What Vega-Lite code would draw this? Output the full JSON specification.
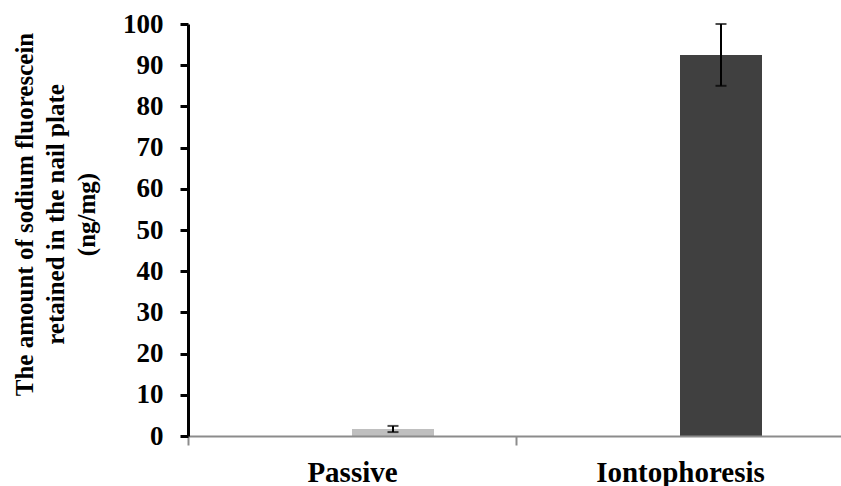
{
  "$schema": "https://vega.github.io/schema/vega-lite/v6.json",
  "width": 653,
  "height": 412,
  "autosize": {"type": "none"},
  "padding": {"left": 188, "top": 24, "right": 0, "bottom": 50},
  "background": "white",
  "config": {"view": {"stroke": null}},
  "data": {
    "values": [
      {"method": "Passive", "slot": "value", "mean": 1.7, "lo": 0.95, "hi": 2.45},
      {"method": "Iontophoresis", "slot": "value", "mean": 92.5, "lo": 85, "hi": 100}
    ]
  },
  "encoding": {
    "x": {
      "field": "method",
      "type": "nominal",
      "sort": ["Passive", "Iontophoresis"],
      "scale": {"range": [0, 656], "paddingInner": 0, "paddingOuter": 0},
      "axis": {
        "title": null,
        "labelAngle": 0,
        "tickBand": "extent",
        "domainColor": "#8c8c8c",
        "domainWidth": 2,
        "tickColor": "#8c8c8c",
        "tickWidth": 2,
        "tickSize": 9,
        "labelFont": "Liberation Serif",
        "labelFontWeight": "bold",
        "labelFontSize": 29,
        "labelColor": "black",
        "labelBaseline": "alphabetic",
        "labelPadding": 36,
        "zindex": 1
      }
    },
    "xOffset": {
      "field": "slot",
      "type": "nominal",
      "scale": {"domain": ["blank", "value"], "paddingInner": 0, "paddingOuter": 1}
    }
  },
  "layer": [
    {
      "mark": {"type": "bar"},
      "encoding": {
        "y": {
          "field": "mean",
          "type": "quantitative",
          "scale": {"domain": [0, 100], "nice": false},
          "axis": {
            "values": [0, 10, 20, 30, 40, 50, 60, 70, 80, 90, 100],
            "grid": false,
            "title": ["The amount of sodium fluorescein", "retained in the nail plate", "(ng/mg)"],
            "titleFont": "Liberation Serif",
            "titleFontSize": 25,
            "titleFontWeight": "bold",
            "titleColor": "black",
            "titleAngle": -90,
            "titleX": -176,
            "titleY": 190,
            "titleBaseline": "top",
            "titleAlign": "center",
            "titleLineHeight": 31,
            "domainColor": "black",
            "domainWidth": 3,
            "tickColor": "black",
            "tickWidth": 3,
            "tickSize": 8,
            "labelFont": "Liberation Serif",
            "labelFontWeight": "bold",
            "labelFontSize": 27,
            "labelColor": "black",
            "labelPadding": 17,
            "zindex": 1
          }
        },
        "color": {
          "field": "method",
          "type": "nominal",
          "scale": {"domain": ["Passive", "Iontophoresis"], "range": ["#bfbfbf", "#404040"]},
          "legend": null
        }
      }
    },
    {
      "mark": {"type": "rule", "color": "black", "strokeWidth": 2},
      "encoding": {
        "y": {"field": "lo", "type": "quantitative"},
        "y2": {"field": "hi"}
      }
    },
    {
      "mark": {"type": "tick", "color": "black", "thickness": 2, "size": 11, "orient": "horizontal"},
      "encoding": {
        "y": {"field": "lo", "type": "quantitative"}
      }
    },
    {
      "mark": {"type": "tick", "color": "black", "thickness": 2, "size": 11, "orient": "horizontal"},
      "encoding": {
        "y": {"field": "hi", "type": "quantitative"}
      }
    }
  ]
}
